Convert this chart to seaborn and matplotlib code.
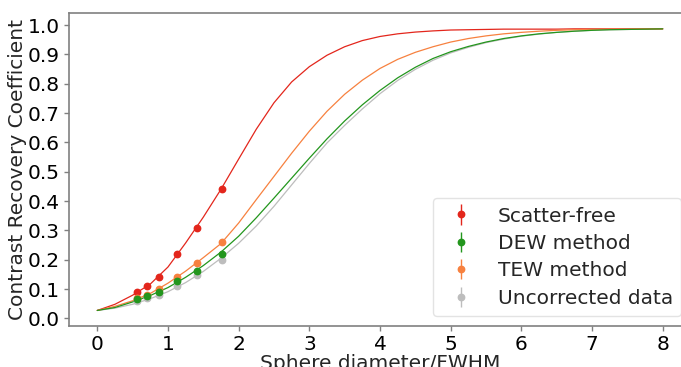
import matplotlib
matplotlib.use("Agg")
import matplotlib.pyplot as plt
import seaborn as sns
import pandas as pd

# ---- data ----
x_curve = [0.0, 0.25, 0.5, 0.75, 1.0, 1.25, 1.5, 1.75, 2.0, 2.25, 2.5, 2.75,
           3.0, 3.25, 3.5, 3.75, 4.0, 4.25, 4.5, 4.75, 5.0, 5.25, 5.5, 5.75,
           6.0, 6.25, 6.5, 6.75, 7.0, 7.25, 7.5, 7.75, 8.0]

scatter_free_curve = [0.027, 0.048, 0.079, 0.117, 0.175, 0.257, 0.345, 0.440, 0.543,
                      0.645, 0.735, 0.806, 0.858, 0.897, 0.926, 0.947, 0.961, 0.970,
                      0.976, 0.980, 0.983, 0.984, 0.985, 0.986, 0.986, 0.986, 0.986,
                      0.987, 0.987, 0.987, 0.987, 0.987, 0.987]
dew_curve = [0.027, 0.037, 0.056, 0.078, 0.105, 0.140, 0.180, 0.226, 0.280,
             0.343, 0.410, 0.478, 0.546, 0.612, 0.673, 0.728, 0.777, 0.820,
             0.856, 0.886, 0.909, 0.927, 0.942, 0.954, 0.963, 0.970, 0.975,
             0.979, 0.982, 0.984, 0.985, 0.986, 0.987]
tew_curve = [0.027, 0.041, 0.060, 0.085, 0.120, 0.161, 0.207, 0.255, 0.325,
             0.405, 0.484, 0.563, 0.638, 0.706, 0.764, 0.812, 0.852, 0.883,
             0.907, 0.926, 0.942, 0.954, 0.963, 0.970, 0.975, 0.979, 0.982,
             0.984, 0.985, 0.986, 0.986, 0.987, 0.987]
uncorr_curve = [0.027, 0.035, 0.048, 0.067, 0.091, 0.122, 0.160, 0.205, 0.256,
                0.315, 0.382, 0.455, 0.528, 0.598, 0.658, 0.714, 0.766, 0.811,
                0.849, 0.880, 0.905, 0.924, 0.940, 0.952, 0.962, 0.969, 0.975,
                0.979, 0.982, 0.984, 0.985, 0.986, 0.987]

x_points = [0.56, 0.70, 0.87, 1.13, 1.41, 1.77]
scatter_free_pts = [0.089, 0.109, 0.141, 0.220, 0.309, 0.441]
dew_pts = [0.065, 0.077, 0.089, 0.127, 0.161, 0.220]
tew_pts = [0.070, 0.079, 0.099, 0.141, 0.190, 0.260]
uncorr_pts = [0.059, 0.068, 0.078, 0.109, 0.149, 0.200]
point_err = [0.004, 0.004, 0.004, 0.004, 0.004, 0.004]

labels = ["Scatter-free", "DEW method", "TEW method", "Uncorrected data"]
colors = {"Scatter-free": "#e3261c", "DEW method": "#23961d",
          "TEW method": "#f7813f", "Uncorrected data": "#bdbdbd"}
x_ticks = [0, 1, 2, 3, 4, 5, 6, 7, 8]
y_ticks = [0.0, 0.1, 0.2, 0.3, 0.4, 0.5, 0.6, 0.7, 0.8, 0.9, 1.0]

# ---- style ----
sns.set_style("ticks")
plt.rcParams["font.family"] = ["DejaVu Sans"]
plt.rcParams["axes.edgecolor"] = "#808080"
plt.rcParams["axes.linewidth"] = 1.2
FS = 14.5

fig = plt.figure(figsize=(6.81, 3.67), dpi=100)
ax = fig.add_axes([69 / 681, (367 - 326) / 367, (691 - 69) / 681, (326 - 13.3) / 367])

curves = {"Scatter-free": scatter_free_curve, "DEW method": dew_curve,
          "TEW method": tew_curve, "Uncorrected data": uncorr_curve}
points = {"Scatter-free": scatter_free_pts, "DEW method": dew_pts,
          "TEW method": tew_pts, "Uncorrected data": uncorr_pts}

rows = []
for lab in labels:
    for xv, yv in zip(x_curve, curves[lab]):
        rows.append({"x": xv, "y": yv, "series": lab})
df = pd.DataFrame(rows)

draw_order = ["Uncorrected data", "Scatter-free", "TEW method", "DEW method"]
for lab in draw_order:
    sns.lineplot(data=df[df["series"] == lab], x="x", y="y", color=colors[lab],
                 linewidth=0.9, ax=ax, legend=False)

handles = {}
for lab in draw_order:
    h = ax.errorbar(x_points, points[lab], yerr=point_err, fmt="o",
                    color=colors[lab], ms=4.6, elinewidth=1.0, label=lab)
    handles[lab] = h

ax.set_xlim(-0.4, 8.4)
ax.set_ylim(-0.026, 1.040)
ax.set_xticks(x_ticks)
ax.set_yticks(y_ticks)
ax.set_yticklabels([f"{v:.1f}" for v in y_ticks])
ax.tick_params(axis="both", labelsize=FS, color="#808080", labelcolor="black",
               length=3.5, width=1.0, pad=3)
ax.set_xlabel("Sphere diameter/FWHM", fontsize=FS, labelpad=0)
ax.set_ylabel("Contrast Recovery Coefficient", fontsize=FS, labelpad=0.5)
for s in ax.spines.values():
    s.set_visible(True)
    s.set_color("#808080")

leg = ax.legend([handles[l] for l in labels], labels, loc="lower right",
                fontsize=FS, frameon=True, fancybox=True, framealpha=0.8,
                edgecolor="#dddddd", borderaxespad=0.5, labelspacing=0.42)

fig.savefig("out.png", dpi=100)
